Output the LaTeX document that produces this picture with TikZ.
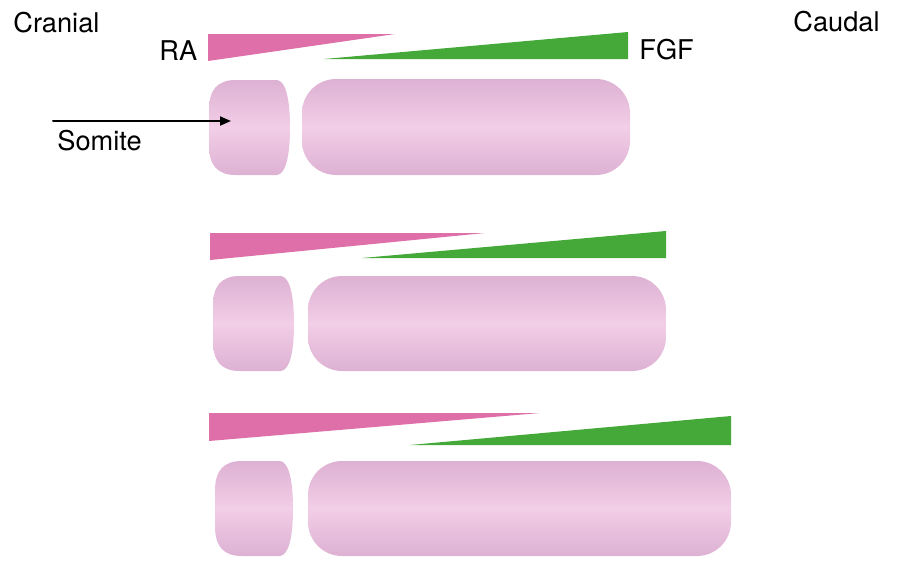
\documentclass[tikz,border=0pt]{standalone}
\usepackage{fontspec}
\setmainfont{TeX Gyre Heros}
\usepackage{tikz}
\usetikzlibrary{positioning}
\usetikzlibrary{arrows.meta}
\definecolor{rapink}{HTML}{DE6FA8}
\definecolor{fgfgreen}{HTML}{45A93A}
\definecolor{tissuedark}{HTML}{DDB1D3}
\definecolor{tissuelight}{HTML}{F2CEE7}

\begin{document}
\begin{tikzpicture}[line cap=round,line join=round,>={Triangle[length=5.5pt,width=4.5pt]},x=0.5pt,y=-0.5pt,
  lbl/.style={font=\fontsize{13.6}{16}\selectfont,inner sep=0pt},
  tissue/.style={top color=tissuedark,bottom color=tissuedark,middle color=tissuelight},
  ragrad/.style={fill=rapink},
  fgfgrad/.style={fill=fgfgreen}]
\useasboundingbox (0,0) rectangle (907,568);
% labels
\node [lbl,anchor=base west] (cranial) at (13,32) {Cranial};
\node [lbl,anchor=base east] (caudal) at (880,31) {Caudal};
\node [lbl,anchor=base west] (ra) at (159,60) {RA};
\node [lbl,anchor=base west] (fgf) at (639,59) {FGF};
\node [lbl,anchor=base west] (somite) at (57,150) {Somite};
% row 1
\fill [ragrad] (208,34) -- (395,34) -- (208,61) -- cycle;
\fill [fgfgrad] (324,59) -- (628,32) -- (628,59) -- cycle;
\shade [tissue] (236,80) -- (277,80) .. controls (286,81) and (290,100) .. (290,127.5) .. controls (290,155) and (286,174) .. (277,175) -- (236,175) .. controls (217,175) and (209,165) .. (209,145) -- (209,110) .. controls (209,90) and (217,80) .. (236,80) -- cycle;
\shade [tissue,rounded corners=17pt] (302,79) rectangle (630,175);
% row 2
\fill [ragrad] (210,233) -- (485,233) -- (210,260) -- cycle;
\fill [fgfgrad] (362,258) -- (666,231) -- (666,258) -- cycle;
\shade [tissue] (240,276) -- (281,276) .. controls (290,277) and (294,296) .. (294,323.5) .. controls (294,351) and (290,370) .. (281,371) -- (240,371) .. controls (221,371) and (213,361) .. (213,341) -- (213,306) .. controls (213,286) and (221,276) .. (240,276) -- cycle;
\shade [tissue,rounded corners=17pt] (308,276) rectangle (666,371);
% row 3
\fill [ragrad] (209,413) -- (540,413) -- (209,441) -- cycle;
\fill [fgfgrad] (410,445) -- (731,416) -- (731,445) -- cycle;
\shade [tissue] (242,461) -- (280,461) .. controls (289,462) and (293,481) .. (293,508.5) .. controls (293,536) and (289,555) .. (280,556) -- (242,556) .. controls (223,556) and (215,546) .. (215,526) -- (215,491) .. controls (215,471) and (223,461) .. (242,461) -- cycle;
\shade [tissue,rounded corners=17pt] (308,461) rectangle (731,556);
% arrow to somite
\coordinate (somite tail) at (53,121);
\coordinate (somite head) at (231,121);
\draw [->,line width=1pt] (somite tail) -- (somite head);
\end{tikzpicture}
\end{document}
